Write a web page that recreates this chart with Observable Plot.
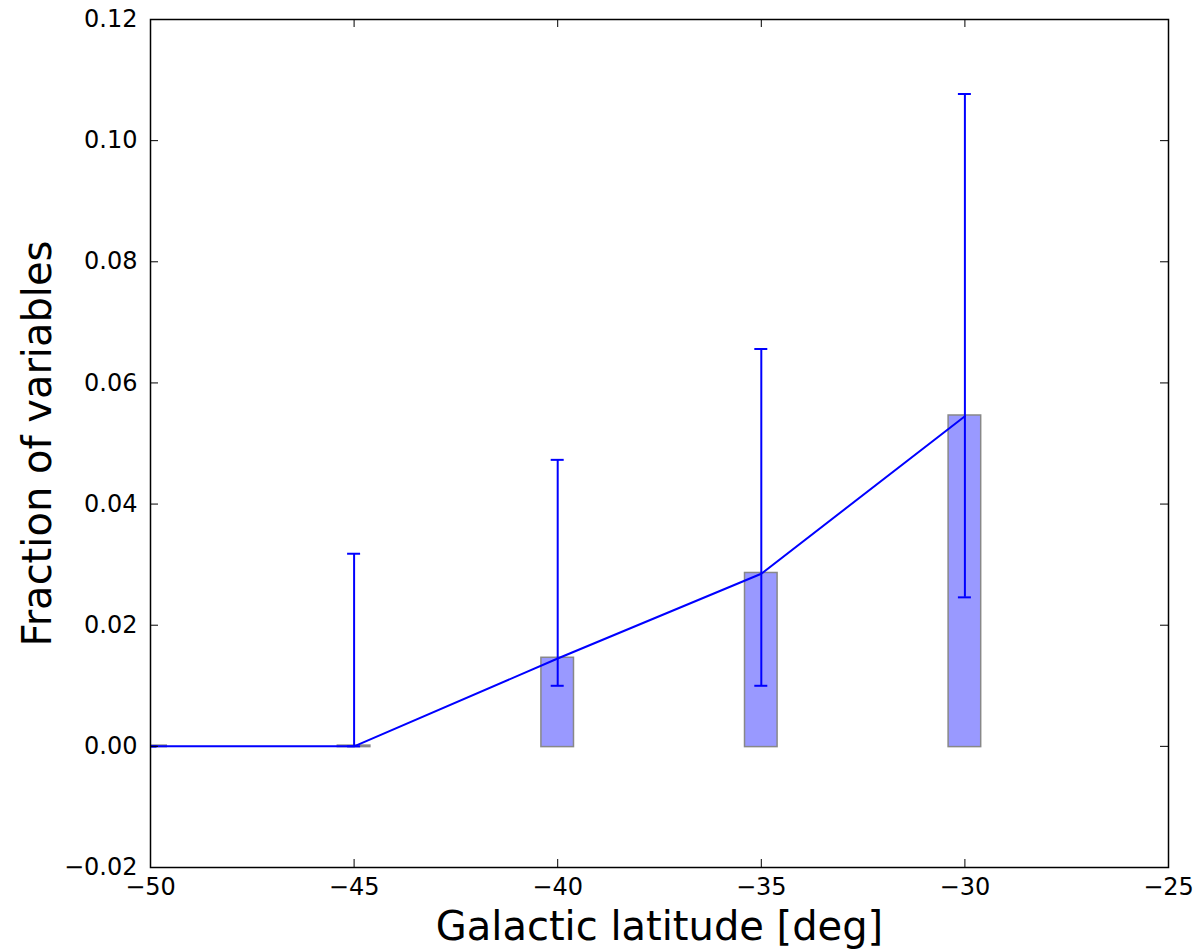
<!DOCTYPE html>
<html>
<head>
<meta charset="utf-8">
<script src="https://cdn.jsdelivr.net/npm/d3@7"></script>
<script src="https://cdn.jsdelivr.net/npm/@observablehq/plot@0.6"></script>
<style>
  body { margin: 0; background: #fff; }
  #chart svg { display: block; }
</style>
</head>
<body>
<div id="chart"></div>
<script>
// ---- data ----
const latitudes = [-50, -45, -40, -35, -30];
const fractions = [0, 0, 0.0145, 0.0285, 0.0545];
const errLow    = [0, 0, 0.0100, 0.0100, 0.0246];
const errHigh   = [0, 0.0318, 0.0473, 0.0656, 0.1077];
const xTicks = [-50, -45, -40, -35, -30, -25];
const yTicks = [-0.02, 0, 0.02, 0.04, 0.06, 0.08, 0.10, 0.12];
const xLabel = "Galactic latitude [deg]";
const yLabel = "Fraction of variables";
const barWidth = 0.8;

const data = latitudes.map((x, i) => ({x, y: fractions[i], lo: errLow[i], hi: errHigh[i]}));

// ---- layout ----
const W = 1196, H = 950;
const mL = 150, mR = 28, mT = 19, mB = 83;
const innerW = W - mL - mR, innerH = H - mT - mB;
const tickLen = 8;
const blue = "#0000ff";

const plot = Plot.plot({
  width: W, height: H,
  marginLeft: mL, marginRight: mR, marginTop: mT, marginBottom: mB,
  style: {fontFamily: "'DejaVu Sans', sans-serif", fontSize: "24px", background: "#fff", color: "#000"},
  x: {domain: [-50, -25]},
  y: {domain: [-0.02, 0.12]},
  marks: [
    Plot.rectY(data, {
      x1: d => d.x - barWidth / 2, x2: d => d.x + barWidth / 2, y1: 0, y2: "y",
      fill: "#9999ff", stroke: "#888888", strokeWidth: 1.5,
      insetTop: -0.75, insetBottom: -0.75, clip: true
    }),
    Plot.ruleX(data, {x: "x", y1: "lo", y2: "hi", stroke: blue, strokeWidth: 2, clip: true}),
    Plot.ruleY(data, {x1: "x", x2: "x", y: "lo", insetLeft: -6.5, insetRight: -6.5, stroke: blue, strokeWidth: 2, clip: true}),
    Plot.ruleY(data, {x1: "x", x2: "x", y: "hi", insetLeft: -6.5, insetRight: -6.5, stroke: blue, strokeWidth: 2, clip: true}),
    Plot.line(data, {x: "x", y: "y", stroke: blue, strokeWidth: 2, clip: true}),
    // inward ticks on all four sides
    Plot.ruleX(xTicks, {x: d => d, insetTop: innerH - tickLen, stroke: "#000", strokeWidth: 1}),
    Plot.ruleX(xTicks, {x: d => d, insetBottom: innerH - tickLen, stroke: "#000", strokeWidth: 1}),
    Plot.ruleY(yTicks, {y: d => d, insetRight: innerW - tickLen, stroke: "#000", strokeWidth: 1}),
    Plot.ruleY(yTicks, {y: d => d, insetLeft: innerW - tickLen, stroke: "#000", strokeWidth: 1}),
    Plot.frame({stroke: "#000", strokeWidth: 1.5}),
    Plot.axisX(xTicks, {tickSize: 0, tickPadding: 10, tickFormat: d3.format("d"), label: null, fontSize: 24}),
    Plot.axisY(yTicks, {tickSize: 0, tickPadding: 13, tickFormat: d3.format(".2f"), label: null, fontSize: 24}),
    Plot.text([yLabel], {text: d => d, frameAnchor: "left", dx: -112, rotate: -90, fontSize: 40, textAnchor: "middle", lineAnchor: "middle"}),
    Plot.text([xLabel], {text: d => d, frameAnchor: "bottom", dy: 60, fontSize: 40, textAnchor: "middle", lineAnchor: "middle"})
  ]
});
document.getElementById("chart").appendChild(plot);
</script>
</body>
</html>
